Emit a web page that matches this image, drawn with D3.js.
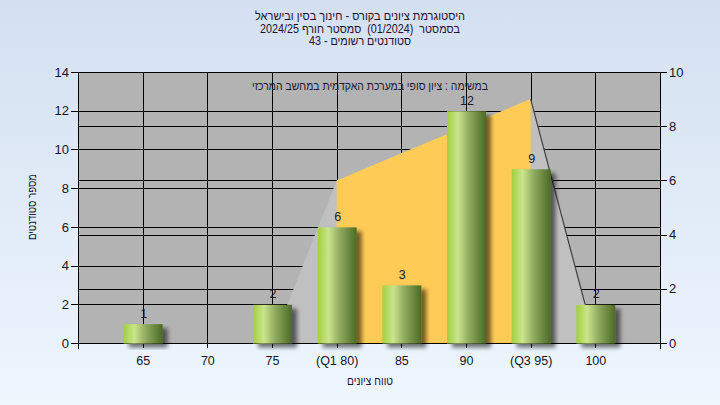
<!DOCTYPE html>
<html><head><meta charset="utf-8">
<script src="https://cdn.jsdelivr.net/npm/d3@7"></script>
<style>body{margin:0}svg{display:block}text{white-space:pre}</style>
</head><body><svg id="c" width="720" height="405"></svg>
<script>
const categories = ["65","70","75","(Q1 80)","85","90","(Q3 95)","100"];
const gradePoints = [65,70,75,80,85,90,95,100];
const counts = [1,0,2,6,3,12,9,2];
const leftTicks = [0,2,4,6,8,10,12,14];
const rightTicks = [0,2,4,6,8,10];
const rangeX = [75,80,95,100];
const rangeY = [0,6,9,0];
const titleLines = ["היסטוגרמת ציונים בקורס - חינוך בסין ובישראל","בסמסטר  (01/2024)  סמסטר חורף 2024/25","סטודנטים רשומים - 43"];
const noteText = "במשימה : ציון סופי במערכת האקדמית במחשב המרכזי";
const yTitle = "מספר סטודנטים";
const xTitle = "טווח ציונים";

const svg = d3.select("#c");
const defs = svg.append("defs");
const bg = defs.append("linearGradient").attr("id","bg").attr("x1",0).attr("y1",0).attr("x2",0).attr("y2",1);
bg.append("stop").attr("offset","0%").attr("stop-color","#d4e0f1");
bg.append("stop").attr("offset","100%").attr("stop-color","#eef6fe");
const bar = defs.append("linearGradient").attr("id","bar").attr("x1",0).attr("y1",0).attr("x2",1).attr("y2",0);
[["0%","#a2cf40"],["28%","#cae48c"],["55%","#93ad62"],["100%","#4b6a24"]].forEach(s=>bar.append("stop").attr("offset",s[0]).attr("stop-color",s[1]));
const f = defs.append("filter").attr("id","sh").attr("x","-30%").attr("y","-30%").attr("width","170%").attr("height","160%");
f.append("feGaussianBlur").attr("in","SourceAlpha").attr("stdDeviation",2);
f.append("feOffset").attr("dx",5).attr("dy",4).attr("result","o");
f.append("feComponentTransfer").attr("in","o").attr("result","o2").append("feFuncA").attr("type","linear").attr("slope",0.55);
const m = f.append("feMerge"); m.append("feMergeNode").attr("in","o2"); m.append("feMergeNode").attr("in","SourceGraphic");

svg.append("rect").attr("width",720).attr("height",405).attr("fill","url(#bg)");

const L = 78, R = 660, T = 72, B = 343;
const x = d3.scaleLinear().domain([60,105]).range([L,R]);
const yL = d3.scaleLinear().domain([0,14]).range([B,T]);
const yR = d3.scaleLinear().domain([0,10]).range([B,T]);

svg.append("rect").attr("x",L).attr("y",T).attr("width",R-L).attr("height",B-T).attr("fill","#b3b3b3");

const grid = svg.append("g").attr("stroke","#000").attr("stroke-width",1).attr("shape-rendering","crispEdges");
leftTicks.forEach(v=>grid.append("line").attr("x1",L).attr("x2",R).attr("y1",Math.round(yL(v))+0.5).attr("y2",Math.round(yL(v))+0.5));
rightTicks.forEach(v=>grid.append("line").attr("x1",L).attr("x2",R).attr("y1",Math.round(yR(v))+0.5).attr("y2",Math.round(yR(v))+0.5));
gradePoints.forEach(v=>grid.append("line").attr("y1",T).attr("y2",B).attr("x1",Math.round(x(v))+0.5).attr("x2",Math.round(x(v))+0.5));

// range area
const pts = rangeX.map((v,i)=>[x(v),yR(rangeY[i])]);
svg.append("path").attr("d",d3.line()(pts)+"Z").attr("fill","#c0c0c0");
svg.append("path").attr("d",d3.line()([[x(rangeX[1]),yR(0)],pts[1],pts[2],[x(rangeX[2]),yR(0)]])+"Z").attr("fill","#fecb56");
svg.append("line").attr("x1",pts[2][0]).attr("y1",pts[2][1]).attr("x2",pts[3][0]).attr("y2",pts[3][1]).attr("stroke","#404040").attr("stroke-width",1.2);

// axes lines
const ax = svg.append("g").attr("shape-rendering","crispEdges");
const gl = ax.append("g").attr("transform",`translate(${L},0)`).call(d3.axisLeft(yL).tickValues(leftTicks).tickSize(7).tickPadding(2));
const gr = ax.append("g").attr("transform",`translate(${R},0)`).call(d3.axisRight(yR).tickValues(rightTicks).tickSize(7).tickPadding(2));
const gb = ax.append("g").attr("transform",`translate(0,${B})`).call(d3.axisBottom(x).tickValues(gradePoints).tickFormat((d,i)=>categories[i]).tickSize(5).tickPadding(8));
[gl,gr,gb].forEach(g=>{g.select(".domain").attr("stroke","#000");g.selectAll(".tick line").attr("stroke","#000");
  g.selectAll("text").attr("font-family","Liberation Sans, Arial, sans-serif").attr("font-size",13).attr("fill","#15152a");});
gb.select(".domain").attr("d",`M${L+0.5},0.5H${R+0.5}`);
gl.select(".domain").attr("d",`M0.5,${B+6}V${T+0.5}`);
gr.select(".domain").attr("d",`M0.5,${B+6}V${T+0.5}`);
gb.selectAll("text").attr("font-size",12.5);

// bars
const bw = 39;
const bars = svg.append("g");
counts.forEach((c,i)=>{
  if(c<=0) return;
  const cx = x(gradePoints[i]);
  bars.append("rect").attr("x",cx-bw/2+0.5).attr("width",bw).attr("y",yL(c)+0.5).attr("height",yL(0)-yL(c)).attr("fill","url(#bar)").attr("filter","url(#sh)");
  bars.append("text").attr("x",cx+1).attr("y",yL(c)-6).attr("text-anchor","middle").attr("font-family","Liberation Sans, Arial, sans-serif").attr("font-size",12.5).attr("fill","#1a1a2e").text(c);
});

// texts
const tf = "Liberation Sans, Arial, sans-serif";
const titleLen = [210,200,102];
titleLines.forEach((t,i)=>svg.append("text").attr("x",360).attr("y",20+i*12.5).attr("text-anchor","middle").attr("direction","rtl")
  .attr("font-family",tf).attr("font-size",12).attr("fill","#1d1030").attr("textLength",titleLen[i]).attr("lengthAdjust","spacingAndGlyphs").text(t));
svg.append("text").attr("x",370).attr("y",90).attr("text-anchor","middle").attr("direction","rtl").attr("font-family",tf).attr("font-size",12).attr("fill","#1a1a2e").attr("textLength",236).attr("lengthAdjust","spacingAndGlyphs").text(noteText);
svg.append("text").attr("transform","translate(36,207) rotate(-90)").attr("text-anchor","middle").attr("direction","rtl").attr("font-family",tf).attr("font-size",12).attr("fill","#1d1030").attr("textLength",66).attr("lengthAdjust","spacingAndGlyphs").text(yTitle);
svg.append("text").attr("x",370).attr("y",385).attr("text-anchor","middle").attr("direction","rtl").attr("font-family",tf).attr("font-size",12).attr("fill","#1d1030").attr("textLength",46).attr("lengthAdjust","spacingAndGlyphs").text(xTitle);
</script></body></html>
